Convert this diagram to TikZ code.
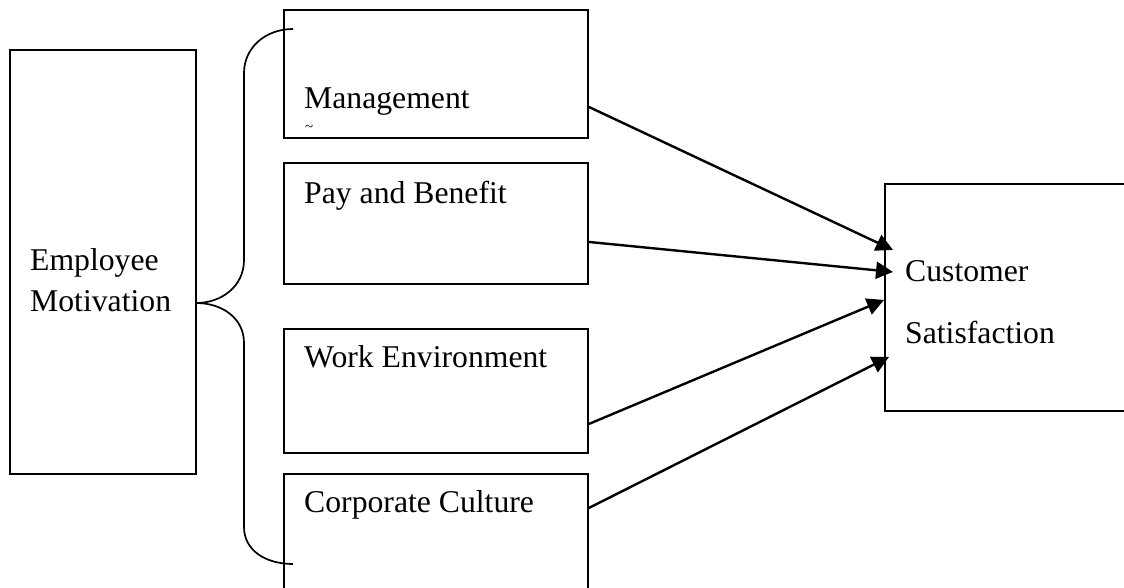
\documentclass[tikz,border=0pt]{standalone}
\usepackage{fontspec}
\setmainfont{Liberation Serif}
\usetikzlibrary{arrows.meta}
\begin{document}
\begin{tikzpicture}[x=1pt,y=-1pt,
  box/.style={draw,line width=1.9pt,rectangle,inner sep=0pt,anchor=north west},
  label/.style={anchor=base west,inner sep=0pt,font=\fontsize{31.7}{38}\selectfont},
  link/.style={line width=2.4pt,-{Triangle[length=17pt,width=17pt]}},
  brace/.style={line width=1.7pt}]
\clip (0,0) rectangle (1124,587);
\fill[white] (0,0) rectangle (1124,587);

% boxes
\node[box,minimum width=186pt,minimum height=424pt] (emp) at (9,49) {};
\node[box,minimum width=304pt,minimum height=128pt] (mgmt) at (283,9) {};
\node[box,minimum width=304pt,minimum height=121pt] (pay) at (283,162) {};
\node[box,minimum width=304pt,minimum height=124pt] (work) at (283,328) {};
\node[box,minimum width=304pt,minimum height=140pt] (corp) at (283,473) {};
\node[box,minimum width=270pt,minimum height=227pt] (cust) at (884,183) {};

% labels
\node[label] (tEmp1) at (30,270) {Employee};
\node[label] (tEmp2) at (30,311) {Motivation};
\node[label] (tMgmt) at (304,108) {Management};
\node[anchor=base west,inner sep=0pt,font=\fontsize{15}{15}\selectfont] (tMgmtCut) at (305,131) {\textasciitilde};
\node[label] (tPay) at (304,203) {Pay and Benefit};
\node[label] (tWork) at (304,367) {Work Environment};
\node[label] (tCorp) at (304,512) {Corporate Culture};
\node[label] (tCust1) at (905,281) {Customer};
\node[label] (tCust2) at (905,343) {Satisfaction};

% brace grouping the four factors
\coordinate (bTop) at (293,29);
\coordinate (bTip) at (196,303);
\coordinate (bBot) at (293,564);
\draw[brace] (bTop) .. controls (265,29) and (244,48) .. (244,73)
  -- (244,260) .. controls (244,286) and (222,303) .. (bTip)
  .. controls (222,303) and (244,318) .. (244,343)
  -- (244,527) .. controls (244,550) and (265,564) .. (bBot);

% factor -> satisfaction
\draw[link] ([yshift=-33pt]mgmt.east) -- ([xshift=9pt,yshift=47.5pt]cust.west);
\draw[link] ([yshift=-18.5pt]pay.east) -- ([xshift=9pt,yshift=25.5pt]cust.west);
\draw[link] ([yshift=-33pt]work.east) -- ([xshift=0pt,yshift=-2.5pt]cust.west);
\draw[link] ([yshift=36pt]corp.east) -- ([xshift=5pt,yshift=-59.5pt]cust.west);
\end{tikzpicture}
\end{document}
